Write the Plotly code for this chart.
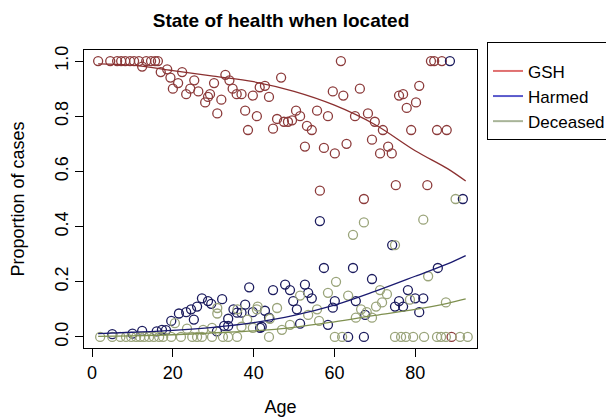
import plotly.graph_objects as go

# ---- data ----
gsh_age = [1.5, 4.5, 6.2, 7.2, 8.2, 9.4, 10.4, 11.6, 13.4, 14.6, 15.6, 16.3, 12.4,
           17, 18.6, 19.4, 22.3, 21.3, 20, 23.3, 24.3, 25.3, 26.3, 28, 28.7, 29.2, 30.2,
           33, 34, 32, 31, 34.8, 35.8, 37, 39.8, 37.9, 38.6, 40.8, 41.5, 42.8, 43.8, 44.8,
           46.8, 45.8, 47.5, 48.5, 49.5, 50.5, 51.5, 53.2, 54.4, 52.7, 55.7, 58.4, 57.4,
           60.1, 59.6, 62.2, 61.6, 63, 66.3, 65.1, 68.3, 70, 72, 69.3, 71.3, 73.3, 74.2,
           75.2, 83, 76, 77, 81, 77.9, 80.2, 79, 85.4, 87.8, 83.9, 84.7, 86.6, 56.4, 67.3, 89]
gsh_p = [1.0, 1.0, 1.0, 1.0, 1.0, 1.0, 1.0, 1.0, 1.0, 1.0, 1.0, 1.0, 0.98,
         0.96, 0.97, 0.94, 0.96, 0.92, 0.90, 0.88, 0.90, 0.93, 0.89, 0.85, 0.87, 0.88, 0.92,
         0.95, 0.93, 0.86, 0.81, 0.90, 0.88, 0.88, 0.875, 0.82, 0.75, 0.80, 0.905, 0.91, 0.87, 0.755,
         0.94, 0.79, 0.78, 0.78, 0.785, 0.82, 0.80, 0.765, 0.75, 0.69, 0.82, 0.80, 0.685,
         0.665, 0.89, 0.875, 1.0, 0.70, 0.90, 0.80, 0.81, 0.78, 0.75, 0.715, 0.665, 0.69, 0.665,
         0.55, 0.55, 0.875, 0.88, 0.91, 0.83, 0.85, 0.75, 0.75, 0.75, 1.0, 1.0, 1.0, 0.53, 0.50, 0.0]

harm_age = [88.6, 91.8, 74.3, 56.4, 57.4, 64.6, 69.3, 85.6, 27.2, 26, 28.7, 24.5, 23.3,
            21.5, 25.2, 19.6, 17.3, 18.3, 12.4, 29.5, 38.9, 44.8, 32.2, 37.9, 35, 35.9, 37,
            39.8, 42.8, 43.8, 32.7, 33.7, 41.6, 47.8, 49, 52.7, 53.5, 54.4, 49.8, 50.7, 51.5,
            42, 58.4, 60.1, 59.6, 63.4, 67.3, 33.7, 30.9, 65.3, 78.2, 76, 75, 77, 80, 82, 81,
            67.6, 5, 10, 16]
harm_p = [1.0, 0.5, 0.333, 0.42, 0.25, 0.25, 0.21, 0.25, 0.14, 0.11, 0.13, 0.10, 0.09,
          0.085, 0.063, 0.058, 0.026, 0.025, 0.022, 0.12, 0.18, 0.17, 0.137, 0.117, 0.10, 0.088, 0.088,
          0.09, 0.095, 0.07, 0.04, 0.04, 0.033, 0.19, 0.17, 0.19, 0.16, 0.14, 0.13, 0.10, 0.048,
          0.037, 0.044, 0.13, 0.106, 0.0, 0.0, 0.066, 0.02, 0.13, 0.17, 0.13, 0.11, 0.11, 0.14, 0.14, 0.09,
          0.08, 0.01, 0.012, 0.02]

dec_age = [2, 5, 7, 8.4, 9.7, 10.9, 11.9, 12.9, 14.1, 15.3, 16.6, 17.6, 19.6, 22, 24.8, 26,
           27.2, 29.7, 32.4, 33.7, 35.9, 43.8, 60.1, 61.9, 75, 76.5, 77.7, 79.5, 82.2, 85.4,
           86.4, 87.6, 91.1, 93,
           90, 75, 67.3, 64.6, 82, 83.2, 60.4, 58.4, 63.4, 71.3, 73, 71.8, 70.3, 66.6, 68,
           65.3, 69.3, 78.7, 87.6, 45.8, 51.5, 55.7, 56.2, 53.5, 47, 49, 41, 36, 44, 39.8,
           37, 29.7, 31, 31, 40.8, 38.4, 20.5, 23.5, 27.5]
dec_p = [0.0] * 34 + [
         0.5, 0.333, 0.415, 0.37, 0.425, 0.22, 0.2, 0.16, 0.15, 0.17, 0.155, 0.125, 0.11, 0.10, 0.09,
         0.07, 0.07, 0.135, 0.125, 0.105, 0.15, 0.10, 0.058, 0.08, 0.026, 0.044, 0.11, 0.10, 0.066, 0.033,
         0.037, 0.033, 0.105, 0.085, 0.10, 0.063, 0.05, 0.03, 0.026]

fit_age = [1.5, 10, 20, 30, 40, 50, 60, 70, 80, 88, 92.5]
fit_gsh = [0.99, 0.985, 0.965, 0.945, 0.925, 0.89, 0.84, 0.77, 0.675, 0.61, 0.565]
fit_harm = [0.012, 0.017, 0.024, 0.035, 0.052, 0.078, 0.115, 0.165, 0.22, 0.265, 0.295]
fit_dec = [0.002, 0.004, 0.008, 0.015, 0.022, 0.035, 0.055, 0.078, 0.10, 0.122, 0.138]

names = ["GSH", "Harmed", "Deceased"]
x_ticks = [0, 20, 40, 60, 80]
y_ticks = [0.0, 0.2, 0.4, 0.6, 0.8, 1.0]
y_tick_text = ["0.0", "0.2", "0.4", "0.6", "0.8", "1.0"]

pt_cols = ["#8c3b3b", "#1c1c5e", "#9aa47a"]
ln_cols = ["#8b3030", "#1a1a70", "#7f9050"]
lg_cols = ["#e07070", "#5a5acc", "#a8b498"]

FONT = "Liberation Sans, Arial, sans-serif"
W, H = 606, 409  # page body adds an 8px margin

fig = go.Figure()
for ages, ps, c in [(gsh_age, gsh_p, pt_cols[0]), (harm_age, harm_p, pt_cols[1]), (dec_age, dec_p, pt_cols[2])]:
    fig.add_trace(go.Scatter(x=ages, y=ps, mode="markers", showlegend=False,
                             marker=dict(symbol="circle-open", size=9, color=c, line=dict(width=1.3, color=c))))
for fy, c in [(fit_gsh, ln_cols[0]), (fit_harm, ln_cols[1]), (fit_dec, ln_cols[2])]:
    fig.add_trace(go.Scatter(x=fit_age, y=fy, mode="lines", showlegend=False,
                             line=dict(color=c, width=1.3, shape="spline")))
for n, c in zip(names, lg_cols):
    fig.add_trace(go.Scatter(x=[None], y=[None], mode="lines", name=n, line=dict(color=c, width=2)))

fig.update_layout(
    width=W, height=H,
    margin=dict(l=76, r=137, t=42, b=69, autoexpand=False),
    paper_bgcolor="white", plot_bgcolor="white",
    font=dict(family=FONT, size=18, color="black"),
    title=dict(text="<b>State of health when located</b>", x=273 / W, xanchor="center",
               y=1 - 12 / H, yanchor="middle", font=dict(size=19, family=FONT)),
    xaxis=dict(range=[-2, 95.3], tickvals=x_ticks, ticks="outside", ticklen=8, tickcolor="black",
               automargin=False,
               showgrid=False, zeroline=False, showline=True, mirror=True, linecolor="black", linewidth=1,
               tickfont=dict(size=18), title=dict(text="Age", font=dict(size=18), standoff=19)),
    yaxis=dict(range=[-0.04, 1.04], tickvals=y_ticks, ticktext=y_tick_text, tickangle=-90,
               ticks="outside", ticklen=8, tickcolor="black", automargin=False,
               showgrid=False, zeroline=False, showline=True, mirror=True, linecolor="black", linewidth=1,
               tickfont=dict(size=18), title=dict(text="Proportion of cases", font=dict(size=18), standoff=22)),
    legend=dict(xref="container", yref="container", x=479 / W, y=1 - 34 / H,
                xanchor="left", yanchor="top",
                bordercolor="black", borderwidth=1, bgcolor="white",
                font=dict(size=17), tracegroupgap=0,
                title=dict(text=" ", font=dict(size=8))),
)

fig.write_html("out.html")
